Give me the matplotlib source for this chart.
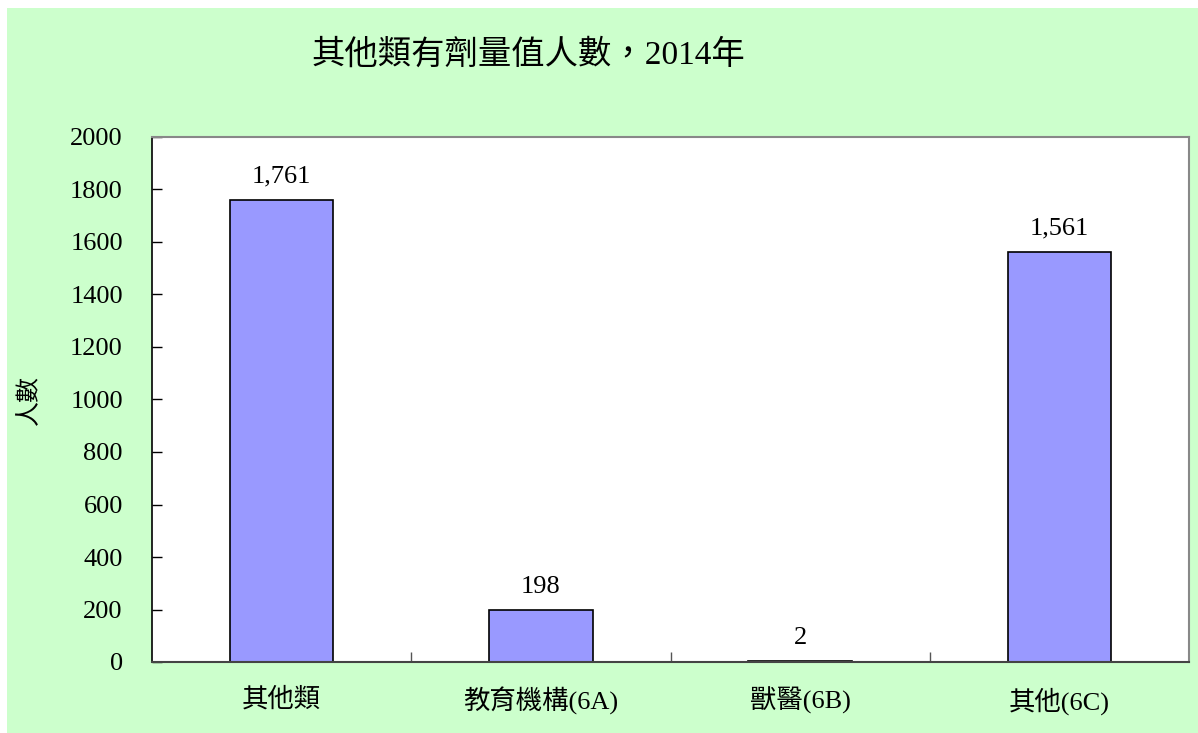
import matplotlib
matplotlib.use("Agg")
import matplotlib.pyplot as plt

categories = ["其他類", "教育機構(6A)", "獸醫(6B)", "其他(6C)"]
counts = [1761, 198, 2, 1561]
y_ticks = [0, 200, 400, 600, 800, 1000, 1200, 1400, 1600, 1800, 2000]
title = "其他類有劑量值人數，2014年"
y_label = "人數"

FONT = ["Liberation Serif", "Noto Sans CJK TC", "DejaVu Sans"]
plt.rcParams["font.family"] = FONT

W, H = 1198, 733
fig = plt.figure(figsize=(W / 100, H / 100), dpi=100, facecolor="white")

# green chart background, inset slightly from the top-left corner
bg = fig.add_axes([7 / W, 0, 1 - 7 / W, 1 - 8 / H], zorder=0)
bg.set_facecolor("#CCFFCC")
bg.set_xticks([])
bg.set_yticks([])
for s in bg.spines.values():
    s.set_visible(False)

left, right, top, bottom = 152, 1189, 137, 662
ax = fig.add_axes([left / W, 1 - bottom / H, (right - left) / W, (bottom - top) / H], zorder=1)
ax.set_facecolor("white")

x = list(range(len(categories)))
ax.bar(x, counts, width=0.4, color="#9999FF", edgecolor="black", linewidth=1.2, zorder=2)

for xi, v in zip(x, counts):
    ax.annotate(f"{v:,}", (xi, v), xytext=(0, 9), textcoords="offset points",
                ha="center", va="bottom", fontsize=19)

ax.set_xlim(-0.5, len(categories) - 0.5)
ax.set_ylim(0, 2000)
ax.set_yticks(y_ticks)
ax.set_yticklabels([str(t) for t in y_ticks], fontsize=19)
ax.tick_params(axis="y", direction="in", length=7, width=1, pad=21)

# category labels centred under bars, tick marks between categories
ax.set_xticks(x)
ax.set_xticklabels(categories, fontsize=19)
ax.tick_params(axis="x", which="major", length=0, pad=18)
ax.set_xticks([i + 0.5 for i in x[:-1]], minor=True)
ax.tick_params(axis="x", which="minor", direction="in", length=7, width=1, color="#555555")

for side in ("top", "right"):
    ax.spines[side].set_color("#888888")
    ax.spines[side].set_linewidth(1.5)
ax.spines["left"].set_color("black")
ax.spines["bottom"].set_color("#444444")
ax.spines["left"].set_linewidth(1.2)
ax.spines["bottom"].set_linewidth(1.5)

fig.text(528 / W, 1 - 55 / H, title, ha="center", va="center", fontsize=24, zorder=3)
fig.text(30 / W, 1 - 400 / H, y_label, ha="center", va="center", rotation=90, fontsize=18, zorder=3)

fig.savefig("out.png", dpi=100, facecolor=fig.get_facecolor())
